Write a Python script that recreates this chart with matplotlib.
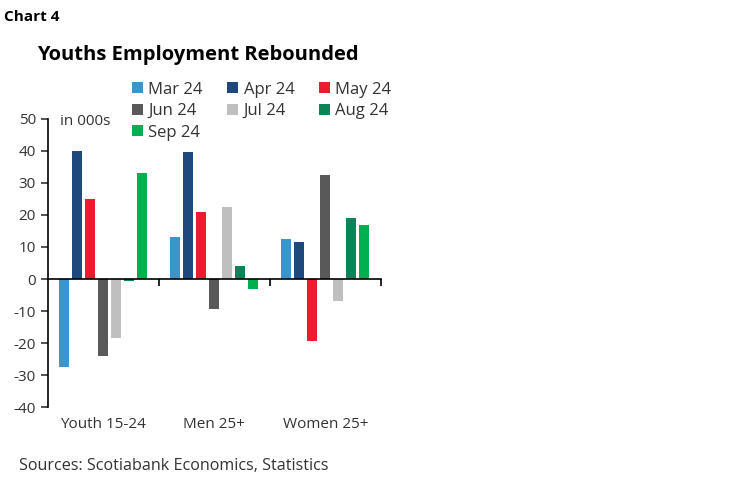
import matplotlib.pyplot as plt
import matplotlib.transforms as mtransforms
import numpy as np

plt.rcParams['font.family'] = ['Open Sans', 'DejaVu Sans']
plt.rcParams['axes.unicode_minus'] = False

categories = ['Youth 15-24', 'Men 25+', 'Women 25+']
months = ['Mar 24', 'Apr 24', 'May 24', 'Jun 24', 'Jul 24', 'Aug 24', 'Sep 24']
mar = [-27.5, 13.0, 12.5]
apr = [40.0, 39.5, 11.5]
may = [25.0, 21.0, -19.5]
jun = [-24.0, -9.5, 32.5]
jul = [-18.5, 22.5, -7.0]
aug = [-0.5, 4.0, 19.0]
sep = [33.0, -3.0, 17.0]
series = [mar, apr, may, jun, jul, aug, sep]
colors = ['#3A94CD', '#1F497D', '#EC1C2E', '#595959', '#BFBFBF', '#0B8457', '#00B050']

fig = plt.figure(figsize=(7.48, 4.83), dpi=100)
ax = fig.add_axes([0.064, 0.157, 0.445, 0.597])

x = np.arange(len(categories))
step = 0.117
width = 0.09
handles = []
for i, (vals, c, lab) in enumerate(zip(series, colors, months)):
    b = ax.bar(x + (i - 3) * step, vals, width, color=c, label=lab)
    handles.append(b)

ax.set_xlim(-0.5, 2.5)
ax.set_ylim(-40, 50)
ax.set_yticks(range(-40, 51, 10))
ax.tick_params(axis='y', labelsize=11, colors='#333333', length=5, width=1.2, direction='out')
ax.spines['top'].set_visible(False)
ax.spines['right'].set_visible(False)
ax.spines['left'].set_linewidth(1.2)
ax.spines['bottom'].set_position(('data', 0))
ax.spines['bottom'].set_linewidth(1.2)
ax.set_xticks([0.5, 1.5, 2.5])
ax.set_xticklabels([])
ax.tick_params(axis='x', length=5, width=1.2, direction='out')

trans = mtransforms.blended_transform_factory(ax.transData, ax.transAxes)
for xi, cat in zip(x, categories):
    ax.text(xi, -0.06, cat, transform=trans, ha='center', va='center',
            fontsize=11, color='#333333')

ax.text(0.035, 0.99, 'in 000s', transform=ax.transAxes, ha='left', va='center',
        fontsize=11, color='#333333')

# legend is row-major in the reference; matplotlib fills columns first
order = [0, 3, 6, 1, 4, 2, 5]
fig.legend(handles=[handles[k] for k in order], labels=[months[k] for k in order],
           ncol=3, loc='upper left',
           bbox_to_anchor=(0.156, 0.862), frameon=False, fontsize=12,
           handlelength=0.65, handleheight=0.65, handletextpad=0.35,
           columnspacing=1.45, labelspacing=0.33, labelcolor='#333333')

fig.text(0.005, 0.965, 'Chart 4', fontsize=11, fontweight='bold', ha='left', va='center')
fig.text(0.05, 0.887, 'Youths Employment Rebounded', fontsize=14.5, fontweight='bold',
         ha='left', va='center')
fig.text(0.025, 0.035, 'Sources: Scotiabank Economics, Statistics', fontsize=11.6,
         color='#333333', ha='left', va='center')

fig.savefig('out.png', dpi=100)
